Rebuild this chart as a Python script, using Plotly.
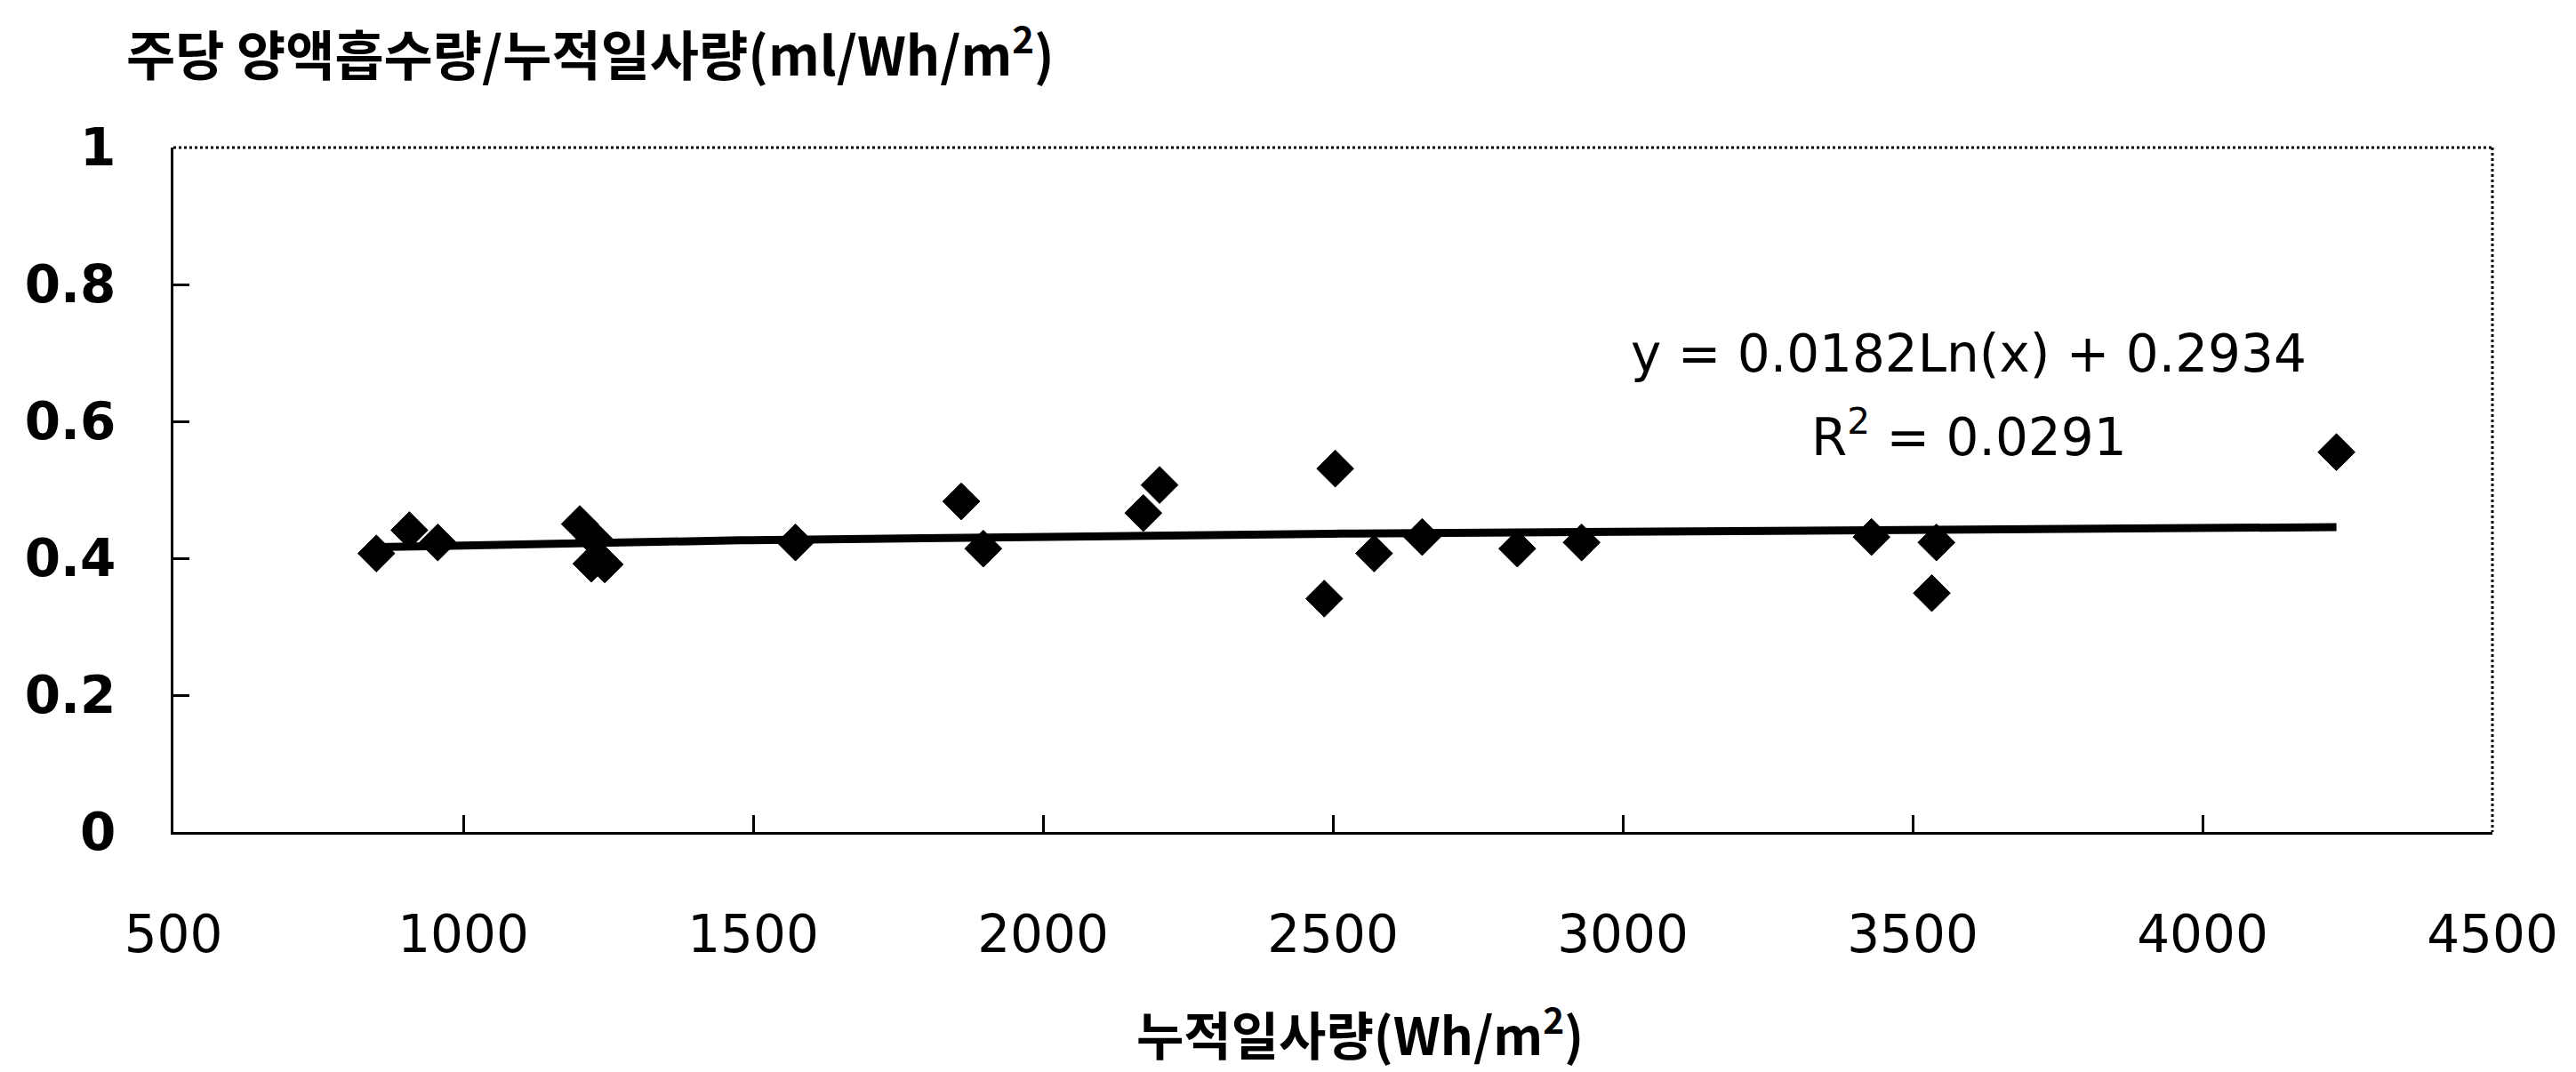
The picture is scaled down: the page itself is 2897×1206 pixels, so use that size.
import numpy as np
import plotly.graph_objects as go

# Data
radiation = [850, 907, 956, 1201, 1226, 1221, 1244, 1573, 1859, 1897, 2173, 2201,
             2485, 2504, 2571, 2654, 2818, 2929, 3429, 3533, 3541, 4231]
ratio = [0.407, 0.441, 0.423, 0.450, 0.428, 0.392, 0.391, 0.423, 0.483, 0.414, 0.466, 0.507,
         0.341, 0.531, 0.407, 0.431, 0.414, 0.423, 0.431, 0.349, 0.423, 0.555]

# Logarithmic trendline as printed on the chart
coef_a = 0.0182
coef_b = 0.2934
r_squared = 0.0291

x_ticks = [500, 1000, 1500, 2000, 2500, 3000, 3500, 4000, 4500]
y_ticks = [0, 0.2, 0.4, 0.6, 0.8, 1]
y_tick_text = ["0", "0.2", "0.4", "0.6", "0.8", "1"]

y_title = "주당 양액흡수량/누적일사량(ml/Wh/m<sup>2</sup>)"
x_title = "누적일사량(Wh/m<sup>2</sup>)"

trend_x = np.linspace(min(radiation), max(radiation), 200)
trend_y = coef_a * np.log(trend_x) + coef_b

W, H = 2897, 1206
L, R, T, B = 195, 94, 166, 270

fig = go.Figure()
fig.add_trace(go.Scatter(
    x=trend_x, y=trend_y, mode="lines",
    line=dict(color="black", width=9), hoverinfo="skip", showlegend=False))
fig.add_trace(go.Scatter(
    x=radiation, y=ratio, mode="markers",
    marker=dict(symbol="diamond", size=32, color="black", line=dict(color="black", width=1)),
    showlegend=False))

tick_font_x = dict(family="DejaVu Sans", size=58, color="black")
tick_font_y = dict(family="DejaVu Sans", size=58, color="black", weight="bold")

fig.update_xaxes(
    range=[500, 4500], tickvals=x_ticks, ticktext=[str(v) for v in x_ticks],
    showline=True, linecolor="black", linewidth=3, mirror=False,
    ticks="inside", ticklen=19, tickwidth=3, tickcolor="black",
    showgrid=False, zeroline=False, tickfont=tick_font_x, ticklabelstandoff=62)
fig.update_yaxes(
    range=[0, 1], tickvals=y_ticks, ticktext=y_tick_text,
    showline=True, linecolor="black", linewidth=3, mirror=False,
    ticks="inside", ticklen=18, tickwidth=3, tickcolor="black",
    showgrid=False, zeroline=False, tickfont=tick_font_y, ticklabelstandoff=50)

# dotted top/right frame
fig.add_shape(type="line", xref="paper", yref="paper", x0=0, y0=1, x1=1, y1=1,
              line=dict(color="black", width=3, dash="dot"))
fig.add_shape(type="line", xref="paper", yref="paper", x0=1, y0=1, x1=1, y1=0,
              line=dict(color="black", width=3, dash="dot"))

pw = W - L - R
ph = H - T - B

annos = [
    dict(text=y_title, xref="paper", yref="paper",
         x=(140 - L) / pw, y=(H - B - 56) / ph, xanchor="left", yanchor="middle",
         font=dict(family="Noto Sans CJK KR", size=60, color="black", weight="bold")),
    dict(text=x_title, xref="paper", yref="paper",
         x=(1529 - L) / pw, y=(H - B - 1160) / ph, xanchor="center", yanchor="middle",
         font=dict(family="Noto Sans CJK KR", size=58, color="black", weight="bold")),
    dict(text=f"y = {coef_a}Ln(x) + {coef_b}", xref="x", yref="y",
         x=3597, y=0.699, xanchor="center", yanchor="middle",
         font=dict(family="DejaVu Sans", size=58, color="black")),
    dict(text=f"R<sup>2</sup> = {r_squared}", xref="x", yref="y",
         x=3597, y=0.582, xanchor="center", yanchor="middle",
         font=dict(family="DejaVu Sans", size=58, color="black")),
]
fig.update_layout(
    width=W, height=H, margin=dict(l=L, r=R, t=T, b=B, pad=0),
    paper_bgcolor="white", plot_bgcolor="white",
    annotations=[dict(showarrow=False, **a) for a in annos])

fig.write_html("out.html")
